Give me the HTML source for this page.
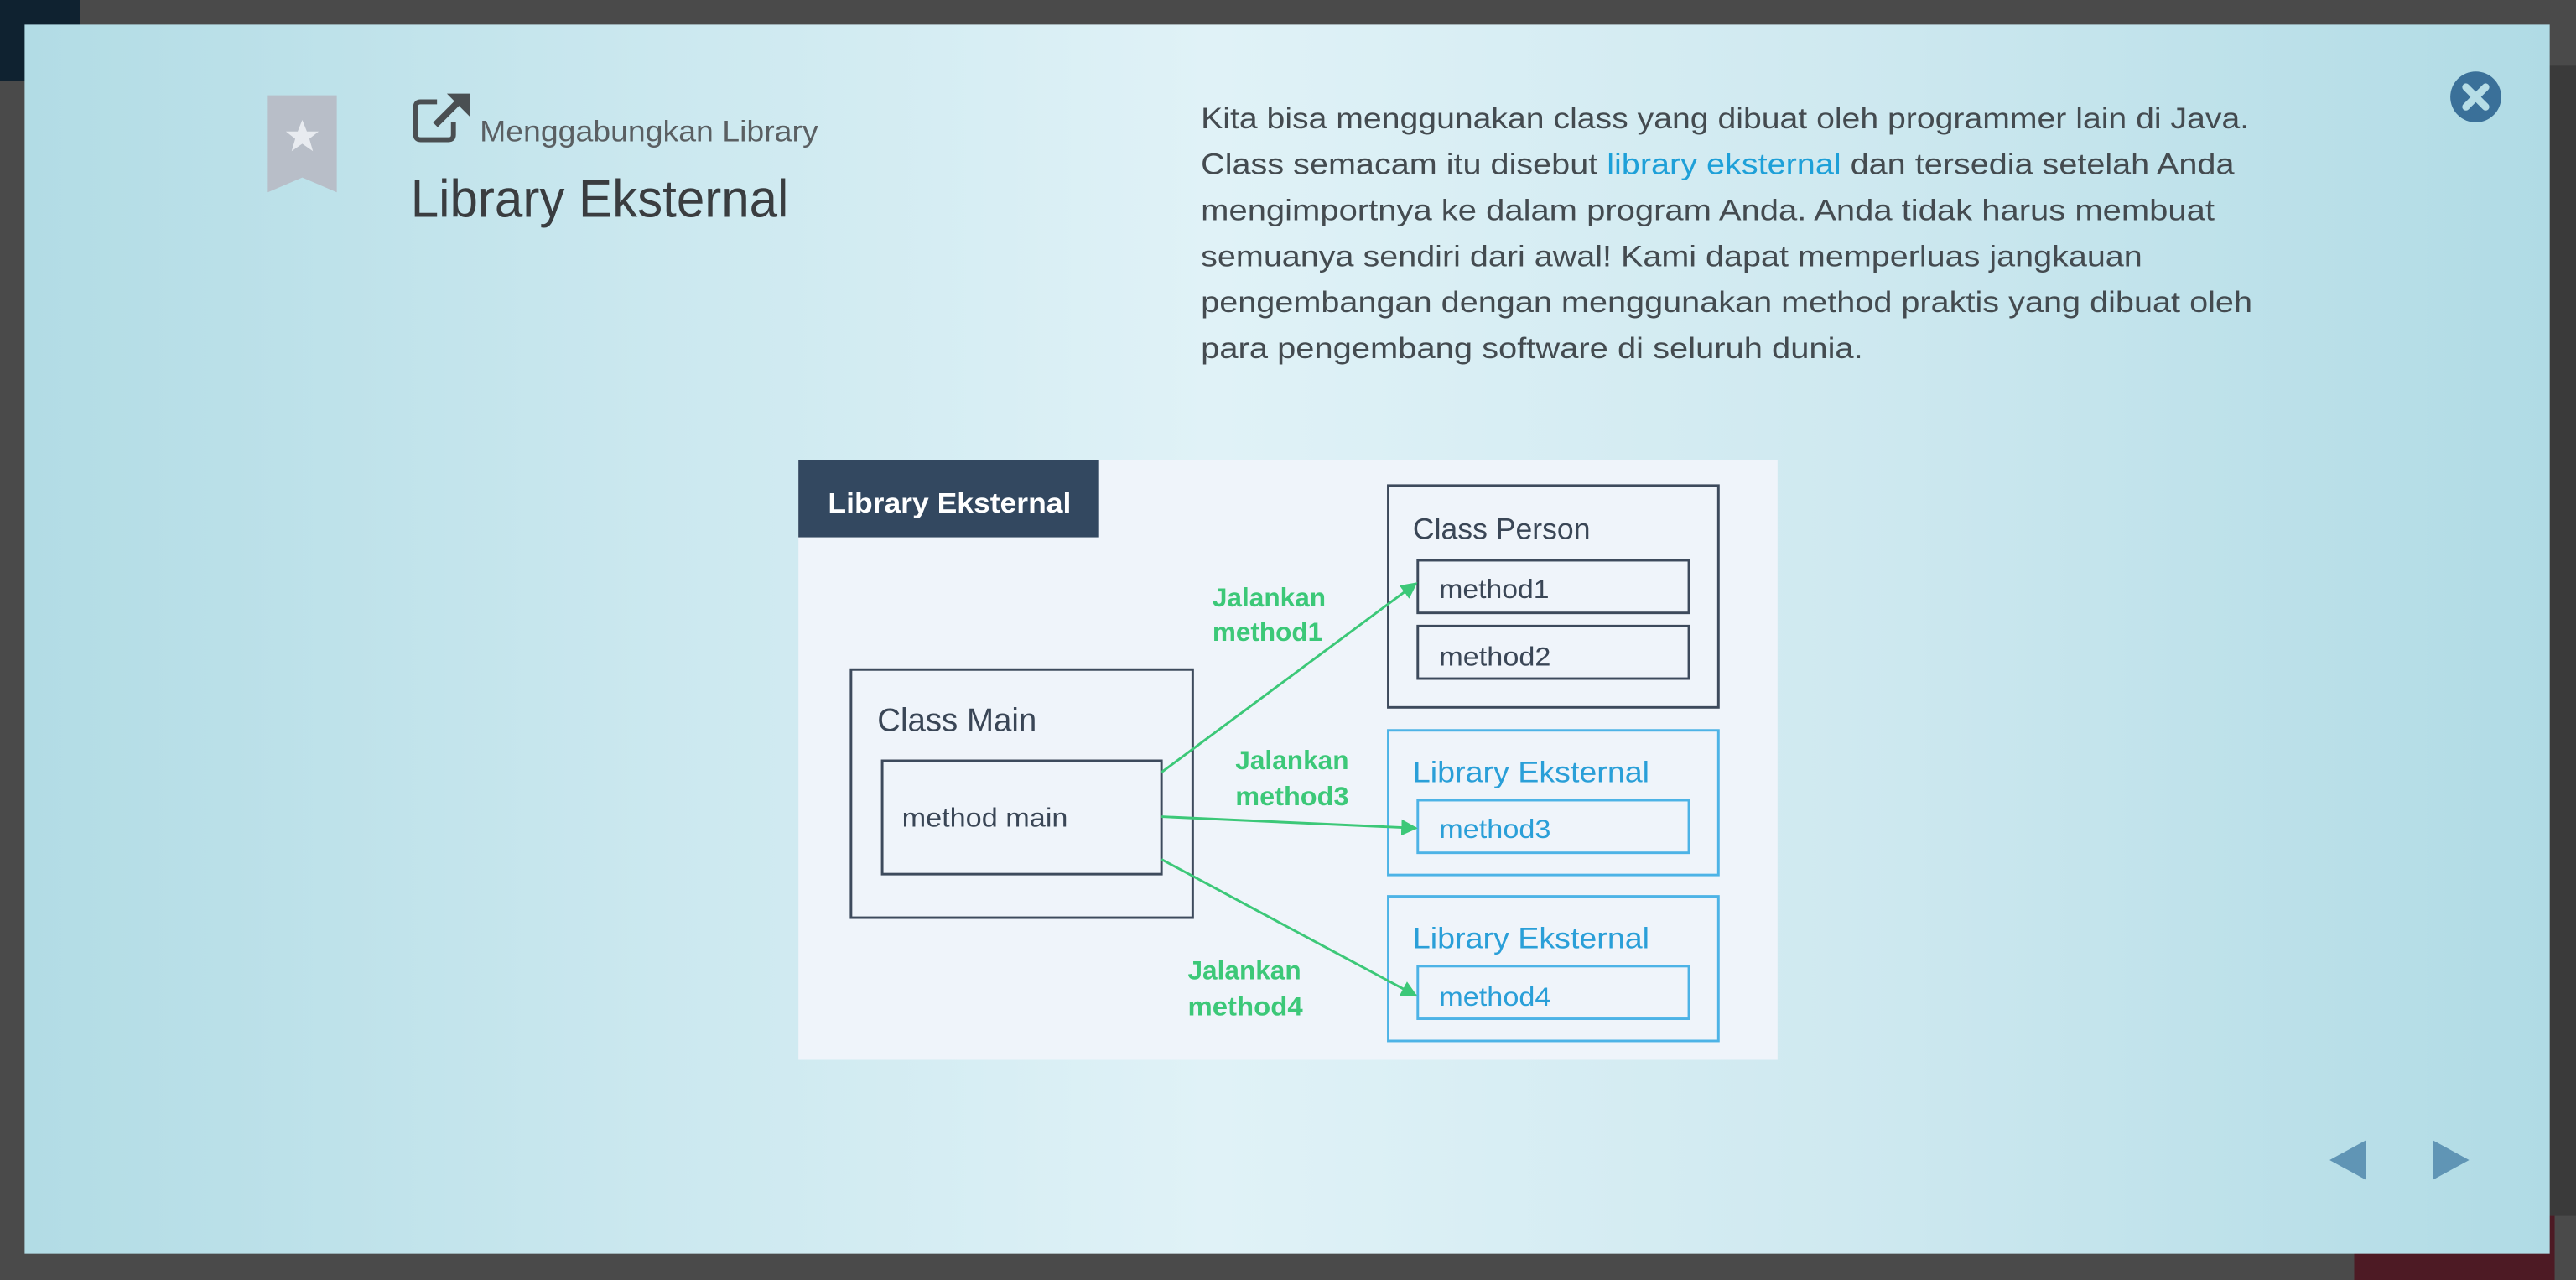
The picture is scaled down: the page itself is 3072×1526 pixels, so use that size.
<!DOCTYPE html>
<html><head><meta charset="utf-8"><style>
html,body{margin:0;padding:0;width:3072px;height:1526px;overflow:hidden;background:#4a4a4a}
svg{display:block}
</style></head><body>
<svg width="3072" height="1526" viewBox="0 0 1568 779" preserveAspectRatio="none" xmlns="http://www.w3.org/2000/svg">
<defs>
<linearGradient id="bg" x1="0" y1="0" x2="1" y2="0">
<stop offset="0" stop-color="#b2dce5"/>
<stop offset="0.25" stop-color="#cbe8ef"/>
<stop offset="0.47" stop-color="#e0f2f7"/>
<stop offset="0.72" stop-color="#cfe9f0"/>
<stop offset="1" stop-color="#b0dbe5"/>
</linearGradient>
<marker id="ah" viewBox="0 0 10 10" refX="9" refY="5" markerWidth="10" markerHeight="10" markerUnits="userSpaceOnUse" orient="auto"><path d="M0,0 L10,5 L0,10 z" fill="#3cc878"/></marker>
</defs>
<rect x="0" y="0" width="1568" height="779" fill="#4a4a4a"/>
<rect x="0" y="0" width="49" height="49" fill="#0f2230"/>
<rect x="1552" y="40" width="16" height="700" fill="#3a3a3a"/>
<rect x="1433" y="740" width="122" height="39" fill="#4d1a24"/>
<rect x="15" y="15" width="1537" height="748" fill="url(#bg)"/>

<path d="M163,58 H205 V117 L184,108 L163,117 Z" fill="#b8bec8"/>
<polygon points="184,73 186.8,80 194,80 188.3,84.5 190.5,92 184,87.5 177.5,92 179.7,84.5 174,80 181.2,80" fill="#e8ebf0"/>
<path d="M266,62 H256 Q253,62 253,65 V82 Q253,85 256,85 H273 Q276,85 276,82 V74" fill="none" stroke="#4a4f52" stroke-width="3"/>
<path d="M265,76 L281,60" stroke="#4a4f52" stroke-width="4"/>
<polygon points="272,57 286,57 286,71" fill="#4a4f52"/>
<text x="292" y="86" font-family="Liberation Sans, sans-serif" font-size="18" fill="#5a5f62" textLength="206" lengthAdjust="spacingAndGlyphs">Menggabungkan Library</text>
<text x="250" y="132" font-family="Liberation Sans, sans-serif" font-size="32" fill="#3a3d40" textLength="230" lengthAdjust="spacingAndGlyphs">Library Eksternal</text>

<g font-family="Liberation Sans, sans-serif" font-size="18" fill="#444b50">
<text x="731" y="78" textLength="638" lengthAdjust="spacingAndGlyphs">Kita bisa menggunakan class yang dibuat oleh programmer lain di Java.</text>
<text x="731" y="106" textLength="629" lengthAdjust="spacingAndGlyphs">Class semacam itu disebut <tspan fill="#1ea0d8">library eksternal</tspan> dan tersedia setelah Anda</text>
<text x="731" y="134" textLength="617" lengthAdjust="spacingAndGlyphs">mengimportnya ke dalam program Anda. Anda tidak harus membuat</text>
<text x="731" y="162" textLength="573" lengthAdjust="spacingAndGlyphs">semuanya sendiri dari awal! Kami dapat memperluas jangkauan</text>
<text x="731" y="190" textLength="640" lengthAdjust="spacingAndGlyphs">pengembangan dengan menggunakan method praktis yang dibuat oleh</text>
<text x="731" y="218" textLength="403" lengthAdjust="spacingAndGlyphs">para pengembang software di seluruh dunia.</text>
</g>

<circle cx="1507" cy="59" r="15.5" fill="#3a7099"/>
<path d="M1501,53 L1513,65 M1513,53 L1501,65" stroke="#b6dde6" stroke-width="4.5" stroke-linecap="round"/>

<polygon points="1440,694 1440,718 1418,706" fill="#6095b5"/>
<polygon points="1481,694 1481,718 1503,706" fill="#6095b5"/>

<rect x="486" y="280" width="596" height="365" fill="#eff4fa"/>
<rect x="486" y="280" width="183" height="47" fill="#334860"/>
<text x="504" y="312" font-family="Liberation Sans, sans-serif" font-weight="bold" font-size="17" fill="#ffffff" textLength="148" lengthAdjust="spacingAndGlyphs">Library Eksternal</text>

<g fill="none" stroke-width="1.5">
<rect x="845" y="295.5" width="201" height="135" stroke="#3d4a5c"/>
<rect x="863" y="341" width="165" height="32" stroke="#3d4a5c"/>
<rect x="863" y="381" width="165" height="32" stroke="#3d4a5c"/>
<rect x="845" y="444.5" width="201" height="88" stroke="#4db3e6"/>
<rect x="863" y="487" width="165" height="32" stroke="#4db3e6"/>
<rect x="845" y="545.5" width="201" height="88" stroke="#4db3e6"/>
<rect x="863" y="588" width="165" height="32" stroke="#4db3e6"/>
<rect x="518" y="407.5" width="208" height="151" stroke="#3d4a5c"/>
<rect x="537" y="463" width="170" height="69" stroke="#3d4a5c"/>
</g>
<g font-family="Liberation Sans, sans-serif">
<text x="860" y="328" font-size="18" fill="#3a4656" textLength="108" lengthAdjust="spacingAndGlyphs">Class Person</text>
<text x="876" y="364" font-size="16" fill="#3a4656" textLength="67" lengthAdjust="spacingAndGlyphs">method1</text>
<text x="876" y="405" font-size="16" fill="#3a4656" textLength="68" lengthAdjust="spacingAndGlyphs">method2</text>
<text x="860" y="476" font-size="18" fill="#2a9fd8" textLength="144" lengthAdjust="spacingAndGlyphs">Library Eksternal</text>
<text x="876" y="510" font-size="16" fill="#2a9fd8" textLength="68" lengthAdjust="spacingAndGlyphs">method3</text>
<text x="860" y="577" font-size="18" fill="#2a9fd8" textLength="144" lengthAdjust="spacingAndGlyphs">Library Eksternal</text>
<text x="876" y="612" font-size="16" fill="#2a9fd8" textLength="68" lengthAdjust="spacingAndGlyphs">method4</text>
<text x="534" y="445" font-size="20" fill="#3a4656" textLength="97" lengthAdjust="spacingAndGlyphs">Class Main</text>
<text x="549" y="503" font-size="16" fill="#3a4656" textLength="101" lengthAdjust="spacingAndGlyphs">method main</text>
</g>
<g stroke="#3cc878" stroke-width="1.5" fill="none">
<line x1="707" y1="470" x2="862" y2="355" marker-end="url(#ah)"/>
<line x1="707" y1="497" x2="862" y2="504" marker-end="url(#ah)"/>
<line x1="707" y1="523" x2="862" y2="606" marker-end="url(#ah)"/>
</g>
<g font-family="Liberation Sans, sans-serif" font-weight="bold" font-size="16" fill="#3cc878">
<text x="738" y="369" textLength="69" lengthAdjust="spacingAndGlyphs">Jalankan</text>
<text x="738" y="390" textLength="67" lengthAdjust="spacingAndGlyphs">method1</text>
<text x="752" y="468" textLength="69" lengthAdjust="spacingAndGlyphs">Jalankan</text>
<text x="752" y="490" textLength="69" lengthAdjust="spacingAndGlyphs">method3</text>
<text x="723" y="596" textLength="69" lengthAdjust="spacingAndGlyphs">Jalankan</text>
<text x="723" y="618" textLength="70" lengthAdjust="spacingAndGlyphs">method4</text>
</g>
</svg>
</body></html>
